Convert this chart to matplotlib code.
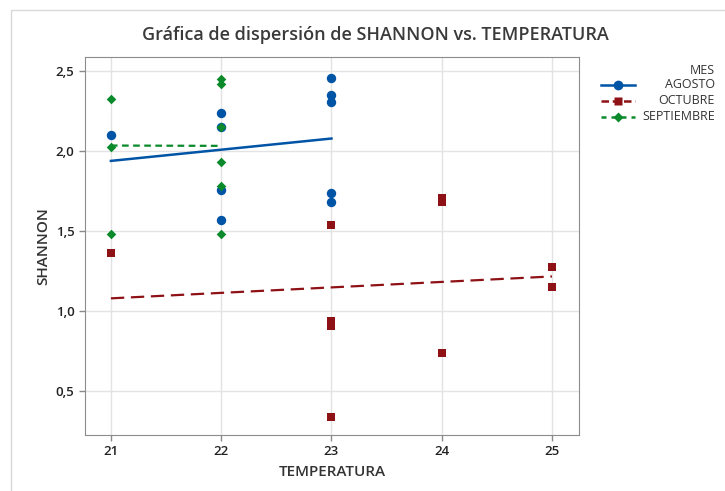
"""Scatter of SHANNON vs TEMPERATURA by month, with fitted lines."""
import matplotlib
matplotlib.use('Agg')
import matplotlib.pyplot as plt
from matplotlib.lines import Line2D
from matplotlib.patches import Rectangle
from matplotlib.ticker import FuncFormatter

plt.rcParams['font.family'] = ['Open Sans', 'DejaVu Sans']

agosto_x = [21, 22, 22, 22, 22, 23, 23, 23, 23, 23]
agosto_y = [2.10, 2.24, 2.15, 1.76, 1.57, 2.46, 2.35, 2.31, 1.74, 1.68]
octubre_x = [21, 23, 23, 23, 23, 24, 24, 24, 25, 25]
octubre_y = [1.365, 1.54, 0.94, 0.91, 0.34, 1.71, 1.685, 0.74, 1.275, 1.148]
septiembre_x = [21, 21, 21, 22, 22, 22, 22, 22, 22]
septiembre_y = [2.33, 2.03, 1.48, 2.455, 2.42, 2.15, 1.93, 1.785, 1.48]

# fitted lines (end points)
agosto_fit_x = [21, 23]
agosto_fit_y = [1.94, 2.08]
octubre_fit_x = [21, 25]
octubre_fit_y = [1.08, 1.217]
septiembre_fit_x = [21, 22]
septiembre_fit_y = [2.036, 2.034]

series = ['AGOSTO', 'OCTUBRE', 'SEPTIEMBRE']
colors = ['#0054a6', '#8e1116', '#0a8a2a']

fig = plt.figure(figsize=(7.25, 4.91), dpi=100)
fig.patches.append(Rectangle((11 / 725, -0.1), 1.2, 1 - 10 / 491 + 0.1,
                             transform=fig.transFigure, fill=False,
                             edgecolor='#d9d9d9', linewidth=1))
ax = fig.add_axes([85 / 725, 1 - 435 / 491, 494 / 725, 378 / 491])

ax.plot(agosto_fit_x, agosto_fit_y, color=colors[0], lw=1.8, zorder=2)
ax.plot(octubre_fit_x, octubre_fit_y, color=colors[1], lw=1.6, ls=(0, (6, 3)), zorder=2)
ax.plot(septiembre_fit_x, septiembre_fit_y, color=colors[2], lw=1.6, ls=(0, (3, 2)), zorder=2)

ax.scatter(agosto_x, agosto_y, marker='o', s=46, color=colors[0], zorder=3, linewidths=0)
ax.scatter(octubre_x, octubre_y, marker='s', s=30, color=colors[1], zorder=3, linewidths=0)
ax.scatter(septiembre_x, septiembre_y, marker='D', s=24, color=colors[2], zorder=4, linewidths=0)

ax.set_xlim(20.765, 25.245)
ax.set_ylim(0.225, 2.59)
ax.set_xticks([21, 22, 23, 24, 25])
ax.set_yticks([0.5, 1.0, 1.5, 2.0, 2.5])
ax.yaxis.set_major_formatter(FuncFormatter(lambda v, p: f'{v:.1f}'.replace('.', ',')))
ax.grid(True, color='#e3e3e3', linewidth=1)
ax.set_axisbelow(True)
for s in ax.spines.values():
    s.set_color('#8c8c8c')
ax.tick_params(colors='#8c8c8c', labelcolor='#222222', labelsize=9.5, length=4, width=1)
for lab in ax.get_xticklabels() + ax.get_yticklabels():
    lab.set_fontweight('semibold')

ax.set_xlabel('TEMPERATURA', fontsize=11, color='#333333', labelpad=5, fontweight='semibold')
ax.set_ylabel('SHANNON', fontsize=11, color='#333333', labelpad=4, fontweight='semibold')
fig.text(375 / 725, 1 - 35 / 491, 'Gráfica de dispersión de SHANNON vs. TEMPERATURA',
         ha='center', va='center', fontsize=13, color='#3a3a3a', fontweight='semibold')

# legend drawn by hand
fig.text(715 / 725, 1 - 71 / 491, 'MES', ha='right', va='center', fontsize=9, color='#333333')
markers = ['o', 's', 'D']
styles = ['-', (0, (3, 1.5)), (0, (2, 2))]
msizes = [7, 5.5, 5]
for i, name in enumerate(series):
    yy = 1 - (85 + i * 16) / 491
    fig.lines.append(Line2D([601 / 725, 635 / 725], [yy, yy], transform=fig.transFigure,
                            color=colors[i], ls=styles[i], lw=1.8))
    fig.lines.append(Line2D([618 / 725], [yy], transform=fig.transFigure, marker=markers[i],
                            ms=msizes[i], color=colors[i], mec='none'))
    fig.text(715 / 725, yy, name, ha='right', va='center', fontsize=9, color='#333333')

fig.savefig('out.png', dpi=100)
